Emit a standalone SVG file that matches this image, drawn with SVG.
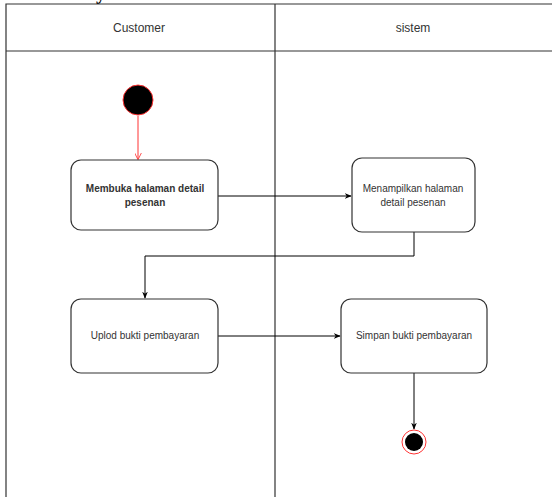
<svg xmlns="http://www.w3.org/2000/svg" width="552" height="497" viewBox="0 0 552 497">
<style>
.lane{fill:none;stroke:#333;stroke-width:1.2}
.box{fill:#fff;stroke:#333;stroke-width:1.2}
.t{font-family:"Liberation Sans",Arial,sans-serif;font-size:10px;fill:#333;text-anchor:middle}
.h{font-family:"Liberation Sans",Arial,sans-serif;font-size:12px;fill:#333;text-anchor:middle}
.c{fill:none;stroke:#000;stroke-width:1}
</style>
<defs>
<marker id="a" viewBox="0 0 10 10" refX="9" refY="5" markerWidth="7" markerHeight="7" orient="auto"><path d="M0,1 L10,5 L0,9 L3,5 Z" fill="#000"/></marker>
<marker id="ar" viewBox="0 0 10 10" refX="9" refY="5" markerWidth="7" markerHeight="7" orient="auto"><path d="M0,0 L10,5 L0,10" fill="none" stroke="#ff3333" stroke-width="1.2"/></marker>
</defs>
<rect width="552" height="497" fill="#fff"/>
<text x="96" y="-1" font-family="Liberation Serif,serif" font-weight="bold" font-size="20" fill="#000">y</text>
<g id="pool">
<path class="lane" d="M6,497 V4 H552 M6,51 H552 M275,4 V497"/>
<text class="h" x="139" y="32">Customer</text>
<text class="h" x="413" y="32">sistem</text>
</g>
<g id="connectors">
<line x1="138" y1="116" x2="138" y2="159" stroke="#ff3333" stroke-width="1" marker-end="url(#ar)"/>
<path class="c" d="M218,196 H351" marker-end="url(#a)"/>
<path class="c" d="M414,232 V256 H145 V298" marker-end="url(#a)"/>
<path class="c" d="M218,336 H340" marker-end="url(#a)"/>
<path class="c" d="M414,373 V429" marker-end="url(#a)"/>
</g>
<g id="start"><circle cx="138" cy="100" r="15" fill="#000" stroke="#ff3333" stroke-width="1"/></g>
<g id="n1"><rect class="box" x="71" y="160" width="147" height="70" rx="10"/>
<text class="t" x="145" y="192" font-weight="bold">Membuka halaman detail</text>
<text class="t" x="145" y="206" font-weight="bold">pesenan</text></g>
<g id="n2"><rect class="box" x="352" y="158" width="123" height="74" rx="10"/>
<text class="t" x="413" y="192">Menampilkan halaman</text>
<text class="t" x="413" y="206">detail pesenan</text></g>
<g id="n3"><rect class="box" x="71" y="299" width="147" height="74" rx="10"/>
<text class="t" x="145" y="339">Uplod bukti pembayaran</text></g>
<g id="n4"><rect class="box" x="341" y="299" width="146" height="74" rx="10"/>
<text class="t" x="414" y="339">Simpan bukti pembayaran</text></g>
<g id="end"><circle cx="414" cy="442" r="12" fill="#fff" stroke="#ff3333" stroke-width="1"/><circle cx="414" cy="442" r="9" fill="#000"/></g>
</svg>
